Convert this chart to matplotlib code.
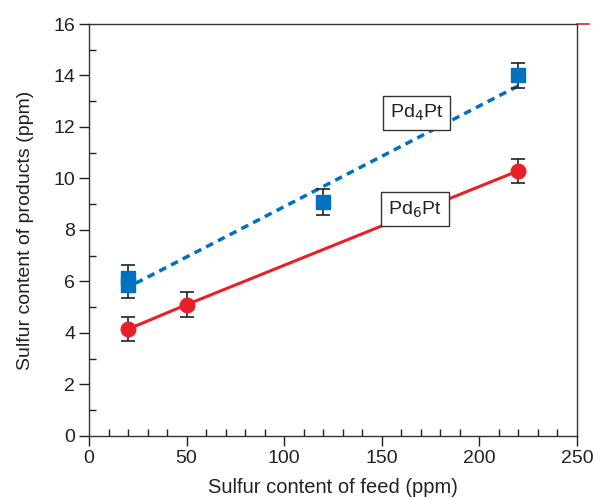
import matplotlib.pyplot as plt
from matplotlib.ticker import MultipleLocator

plt.rcParams['font.family'] = ['Liberation Sans', 'DejaVu Sans']

# Pd4Pt data (blue squares)
pd4_x = [20, 20, 120, 220]
pd4_y = [6.15, 5.85, 9.1, 14.0]
pd4_err = [0.5, 0.5, 0.5, 0.5]
pd4_fit_x = [18, 220]
pd4_fit_y = [5.7, 13.6]

# Pd6Pt data (red circles)
pd6_x = [20, 50, 220]
pd6_y = [4.15, 5.1, 10.3]
pd6_err = [0.48, 0.48, 0.47]

blue = "#0070C0"
red = "#E8202A"
fs = 14

fig = plt.figure(figsize=(5.95, 4.99), dpi=100)
ax = fig.add_axes([0.1496, 0.1263, 0.8201, 0.8256])

# fitted lines
ax.plot(pd4_fit_x, pd4_fit_y, color=blue, lw=2.5, linestyle=(0, (2.2, 1.6)))
ax.plot(pd6_x, pd6_y, color=red, lw=2.2)

# error bars
ax.errorbar(pd4_x, pd4_y, yerr=pd4_err, fmt="none", ecolor="#222222",
            elinewidth=1.2, capsize=5, capthick=1.2)
ax.errorbar(pd6_x, pd6_y, yerr=pd6_err, fmt="none", ecolor="#222222",
            elinewidth=1.2, capsize=5, capthick=1.2)

# markers
ax.plot(pd4_x, pd4_y, "s", color=blue, ms=9.5, mec=blue, linestyle="none")
ax.plot(pd6_x, pd6_y, "o", color=red, ms=10.5, mec=red, linestyle="none")

# labels on the lines
box = dict(boxstyle="square,pad=0.35", fc="white", ec="#333333", lw=1)
ax.text(168, 12.55, r"Pd$_4$Pt", fontsize=fs, ha="center", va="center",
        bbox=box, color="#222222")
ax.text(167, 8.8, r"Pd$_6$Pt", fontsize=fs, ha="center", va="center",
        bbox=box, color="#222222")

ax.set_xlim(0, 250)
ax.set_ylim(0, 16)
ax.xaxis.set_major_locator(MultipleLocator(50))
ax.xaxis.set_minor_locator(MultipleLocator(10))
ax.yaxis.set_major_locator(MultipleLocator(2))
ax.yaxis.set_minor_locator(MultipleLocator(1))
ax.tick_params(which="major", direction="out", length=7, width=1,
               labelsize=fs, colors="#222222", pad=3)
ax.tick_params(which="minor", direction="in", length=5, width=1, color="#222222")

for s in ax.spines.values():
    s.set_color("#333333")
    s.set_linewidth(1)

# small red mark at top right corner
ax.plot([1.0, 1.025], [1.0, 1.0], color=red, lw=1.2,
        transform=ax.transAxes, clip_on=False)

ax.set_xlabel("Sulfur content of feed (ppm)", fontsize=fs + 0.5,
              color="#222222", labelpad=8)
ax.set_ylabel("Sulfur content of products (ppm)", fontsize=fs,
              color="#222222", labelpad=14)

fig.savefig("out.png", dpi=100)
plt.close(fig)
